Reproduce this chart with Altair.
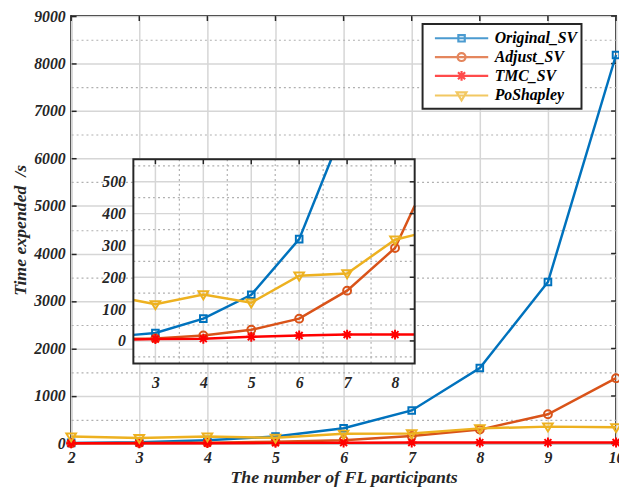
import altair as alt
import pandas as pd

# ---------------- data ----------------
N = [2, 3, 4, 5, 6, 7, 8, 9, 10]
NAMES = ["Original_SV", "Adjust_SV", "TMC_SV", "PoShapley"]
COLORS = ["#0072BD", "#D95319", "#FF0000", "#EDB120"]
ORIGINAL_SV = [12, 25, 70, 145, 320, 695, 1590, 3400, 8180]
ADJUST_SV = [5, 8, 17, 35, 70, 158, 292, 615, 1375]
TMC_SV = [3, 6, 7, 13, 17, 20, 20, 20, 21]
POSHAPLEY = [145, 115, 146, 120, 205, 212, 318, 355, 340]
SERIES = [ORIGINAL_SV, ADJUST_SV, TMC_SV, POSHAPLEY]

X_TICKS = [2, 3, 4, 5, 6, 7, 8, 9, 10]
Y_TICKS = [0, 1000, 2000, 3000, 4000, 5000, 6000, 7000, 8000, 9000]
X_DOMAIN = [2, 10]
Y_DOMAIN = [0, 9000]

# inset (zoomed) axes limits and ticks
X_IN = [2.54, 8.41]
Y_IN = [-71, 571]
X_IN_TICKS = [3, 4, 5, 6, 7, 8]
Y_IN_TICKS = [0, 100, 200, 300, 400, 500]
X_IN_MINOR = [3.5, 4.5, 5.5, 6.5, 7.5]
Y_IN_MINOR = [-50, 50, 150, 250, 350, 450, 550]

# ---------------- style ----------------
FONT = "Liberation Serif"
W, H = 552, 433
INK = "#262626"
MAJ = "#d6d6d6"
MIN = "#b0b0b0"

PT_SHAPES = [
    ("square", 45),
    ("circle", 64),
    ("M-1,0L1,0M0,-1L0,1M-0.7,-0.7L0.7,0.7M-0.7,0.7L0.7,-0.7", 100),
    ("M-1,-0.65L1,-0.65L0,1Z", 95),
]
LINE = "M-3,0L3,0"
LEG_SHAPES = [
    LINE + "M-0.36,-0.36L0.36,-0.36L0.36,0.36L-0.36,0.36Z",
    LINE + "M-0.45,0A0.45,0.45,0,1,0,0.45,0A0.45,0.45,0,1,0,-0.45,0Z",
    LINE + "M-0.55,0L0.55,0M0,-0.55L0,0.55M-0.4,-0.4L0.4,0.4M-0.4,0.4L0.4,-0.4",
    LINE + "M-0.55,-0.36L0.55,-0.36L0,0.55Z",
]

x_vals = [2 + 0.25 * i for i in range(33)]
y_vals = [500 * i for i in range(19)]

lab = dict(labelFont=FONT, labelFontSize=16, labelFontWeight="bold",
           labelFontStyle="italic", labelColor=INK, labelOverlap=False,
           labelFlush=False, labelBound=False)
tit = dict(titleFont=FONT, titleFontSize=18, titleFontWeight="bold",
           titleFontStyle="italic", titleColor=INK)

ax_x = alt.Axis(
    values=x_vals, orient="bottom", domain=False, offset=-5, tickSize=5,
    tickWidth=1.5, tickColor=INK, format="d",
    tickOpacity={"condition": {"test": "datum.value % 1 !== 0", "value": 0}, "value": 1},
    grid=True,
    gridDash={"condition": {"test": "datum.value % 1 !== 0", "value": [2, 3]}, "value": []},
    gridColor={"condition": {"test": "datum.value % 1 !== 0", "value": MIN}, "value": MAJ},
    gridWidth={"condition": {"test": "datum.value % 1 !== 0", "value": 1.2}, "value": 1.5},
    labelExpr="datum.value % 1 === 0 ? datum.label : ''",
    labelPadding=6, title="The number of FL participants", titlePadding=4,
    **lab, **tit)
ax_y = alt.Axis(
    values=y_vals, orient="left", domain=False, offset=-5, tickSize=5,
    tickWidth=1.5, tickColor=INK, format="d",
    tickOpacity={"condition": {"test": "datum.value % 1000 !== 0", "value": 0}, "value": 1},
    grid=True,
    gridDash={"condition": {"test": "datum.value % 1000 !== 0", "value": [2, 3]}, "value": []},
    gridColor={"condition": {"test": "datum.value % 1000 !== 0", "value": MIN}, "value": MAJ},
    gridWidth={"condition": {"test": "datum.value % 1000 !== 0", "value": 1.2}, "value": 1.5},
    labelExpr="datum.value % 1000 === 0 ? datum.label : ''",
    labelPadding=6, title="Time expended\u00a0 /s", titlePadding=4,
    **lab, **tit)

xs = alt.Scale(domain=X_DOMAIN, nice=False, zero=False)
ys = alt.Scale(domain=Y_DOMAIN, nice=False)

# inset placement (pixels inside the plot area)
IN_LEFT, IN_RIGHT, IN_TOP, IN_BOTTOM = 63, 348, 145, 352
xs_in = alt.Scale(domain=X_IN, range=[IN_LEFT, IN_RIGHT], nice=False, zero=False)
ys_in = alt.Scale(domain=Y_IN, range=[IN_BOTTOM, IN_TOP], nice=False, zero=False)

ax_x_in = alt.Axis(values=X_IN_TICKS, orient="bottom", domain=False,
                   offset=IN_BOTTOM - H - 5, tickSize=5, tickWidth=1.5,
                   tickColor=INK, grid=False, labelPadding=11, title=None, **lab)
ax_y_in = alt.Axis(values=Y_IN_TICKS, orient="left", domain=False,
                   offset=-IN_LEFT - 5, tickSize=5, tickWidth=1.5,
                   tickColor=INK, grid=False, labelPadding=8, title=None, **lab)


def clip_seg(x0, y0, x1, y1, xmin, xmax, ymin, ymax):
    dx, dy = x1 - x0, y1 - y0
    t0, t1 = 0.0, 1.0
    for p, q in ((-dx, x0 - xmin), (dx, xmax - x0), (-dy, y0 - ymin), (dy, ymax - y0)):
        if p == 0:
            if q < 0:
                return None
        else:
            t = q / p
            if p < 0:
                t0 = max(t0, t)
            else:
                t1 = min(t1, t)
    if t0 > t1:
        return None
    return (x0 + t0 * dx, y0 + t0 * dy, x0 + t1 * dx, y0 + t1 * dy)


main_layers = []
inset_layers = []

# mirrored inward ticks on the top and right of the main box
main_layers.append(
    alt.Chart(pd.DataFrame({"v": X_TICKS})).mark_rule(color=INK, strokeWidth=1.5).encode(
        x=alt.X("v:Q", scale=xs, axis=ax_x), y=alt.value(0), y2=alt.value(5)))
main_layers.append(
    alt.Chart(pd.DataFrame({"v": Y_TICKS})).mark_rule(color=INK, strokeWidth=1.5).encode(
        y=alt.Y("v:Q", scale=ys, axis=ax_y), x=alt.value(W - 5), x2=alt.value(W)))

# inset background + grid
box_df = pd.DataFrame({"x0": [X_IN[0]], "x1": [X_IN[1]], "y0": [Y_IN[0]], "y1": [Y_IN[1]]})
inset_layers.append(
    alt.Chart(box_df).mark_rect(fill="white", stroke=None).encode(
        x=alt.X("x0:Q", scale=xs_in, axis=ax_x_in), x2="x1:Q",
        y=alt.Y("y0:Q", scale=ys_in, axis=ax_y_in), y2="y1:Q"))


def vgrid(vals, dash, color, width):
    df = pd.DataFrame({"v": vals, "y0": Y_IN[0], "y1": Y_IN[1]})
    return alt.Chart(df).mark_rule(strokeDash=dash, color=color, strokeWidth=width).encode(
        x=alt.X("v:Q", scale=xs_in, axis=ax_x_in),
        y=alt.Y("y0:Q", scale=ys_in, axis=ax_y_in), y2="y1:Q")


def hgrid(vals, dash, color, width):
    df = pd.DataFrame({"v": vals, "x0": X_IN[0], "x1": X_IN[1]})
    return alt.Chart(df).mark_rule(strokeDash=dash, color=color, strokeWidth=width).encode(
        y=alt.Y("v:Q", scale=ys_in, axis=ax_y_in),
        x=alt.X("x0:Q", scale=xs_in, axis=ax_x_in), x2="x1:Q")


inset_layers += [
    vgrid(X_IN_MINOR, [2, 3], MIN, 1.2),
    hgrid(Y_IN_MINOR, [2, 3], MIN, 1.2),
    vgrid(X_IN_TICKS, [1, 0], MAJ, 1.5),
    hgrid(Y_IN_TICKS, [1, 0], MAJ, 1.5),
]

for name, color, vals, (shp, sz) in zip(NAMES, COLORS, SERIES, PT_SHAPES):
    df = pd.DataFrame({"n": N, "t": vals})
    main_layers.append(
        alt.Chart(df).mark_line(color=color, strokeWidth=2.5).encode(
            x=alt.X("n:Q", scale=xs, axis=ax_x), y=alt.Y("t:Q", scale=ys, axis=ax_y)))
    main_layers.append(
        alt.Chart(df).mark_point(shape=shp, size=sz, filled=False, color=color,
                                 strokeWidth=2, opacity=1).encode(
            x=alt.X("n:Q", scale=xs, axis=ax_x), y=alt.Y("t:Q", scale=ys, axis=ax_y)))

    # clipped polyline for the inset
    pts = []
    for i in range(len(N) - 1):
        seg = clip_seg(N[i], vals[i], N[i + 1], vals[i + 1], X_IN[0], X_IN[1], Y_IN[0], Y_IN[1])
        if seg is None:
            continue
        if not pts:
            pts.append((seg[0], seg[1]))
        pts.append((seg[2], seg[3]))
    cdf = pd.DataFrame({"n": [p[0] for p in pts], "t": [p[1] for p in pts],
                        "i": list(range(len(pts)))})
    inset_layers.append(
        alt.Chart(cdf).mark_line(color=color, strokeWidth=2.5).encode(
            x=alt.X("n:Q", scale=xs_in, axis=ax_x_in),
            y=alt.Y("t:Q", scale=ys_in, axis=ax_y_in), order="i:Q"))
    inside = df[(df.n >= X_IN[0]) & (df.n <= X_IN[1]) & (df.t >= Y_IN[0]) & (df.t <= Y_IN[1])]
    inset_layers.append(
        alt.Chart(inside).mark_point(shape=shp, size=sz, filled=False, color=color,
                                     strokeWidth=2, opacity=1).encode(
            x=alt.X("n:Q", scale=xs_in, axis=ax_x_in),
            y=alt.Y("t:Q", scale=ys_in, axis=ax_y_in)))

# inset mirrored ticks (top and right)
inset_layers.append(
    alt.Chart(pd.DataFrame({"v": X_IN_TICKS})).mark_rule(color=INK, strokeWidth=1.5).encode(
        x=alt.X("v:Q", scale=xs_in, axis=ax_x_in), y=alt.value(IN_TOP), y2=alt.value(IN_TOP + 5)))
inset_layers.append(
    alt.Chart(pd.DataFrame({"v": Y_IN_TICKS})).mark_rule(color=INK, strokeWidth=1.5).encode(
        y=alt.Y("v:Q", scale=ys_in, axis=ax_y_in), x=alt.value(IN_RIGHT - 5), x2=alt.value(IN_RIGHT)))

# inset border on top
inset_layers.append(
    alt.Chart(box_df).mark_rect(fill=None, stroke=INK, strokeWidth=2).encode(
        x=alt.X("x0:Q", scale=xs_in, axis=ax_x_in), x2="x1:Q",
        y=alt.Y("y0:Q", scale=ys_in, axis=ax_y_in), y2="y1:Q"))

# legend carrier (no marks drawn)
leg = alt.Legend(title=None, orient="none", legendX=356, legendY=8,
                 symbolSize=324, symbolStrokeWidth=2.2, symbolOffset=25,
                 labelOffset=23, labelAlign="left", labelFont=FONT, labelFontSize=16,
                 labelFontWeight="bold", labelFontStyle="italic", labelColor="black",
                 labelLimit=300, rowPadding=0, padding=4, fillColor="white",
                 strokeColor=INK, symbolFillColor="transparent")
leg_df = pd.DataFrame({"series": NAMES})
legend_layer = alt.Chart(leg_df).mark_point(filled=False, size=324, strokeWidth=2.2).encode(
    color=alt.Color("series:N", scale=alt.Scale(domain=NAMES, range=COLORS), legend=leg),
    shape=alt.Shape("series:N", scale=alt.Scale(domain=NAMES, range=LEG_SHAPES), legend=leg),
).transform_filter("false")

main = alt.layer(*main_layers, legend_layer)
inset = alt.layer(*inset_layers)

chart = alt.layer(main, inset).resolve_scale(x="independent", y="independent").properties(
    width=W, height=H,
    autosize=alt.AutoSizeParams(type="none"),
    padding={"left": 64, "top": 5, "right": 3, "bottom": 48},
).configure_view(stroke=INK, strokeWidth=2).configure_legend(strokeWidth=2)

chart.save("out.html", embed_options={"renderer": "svg", "actions": False})
